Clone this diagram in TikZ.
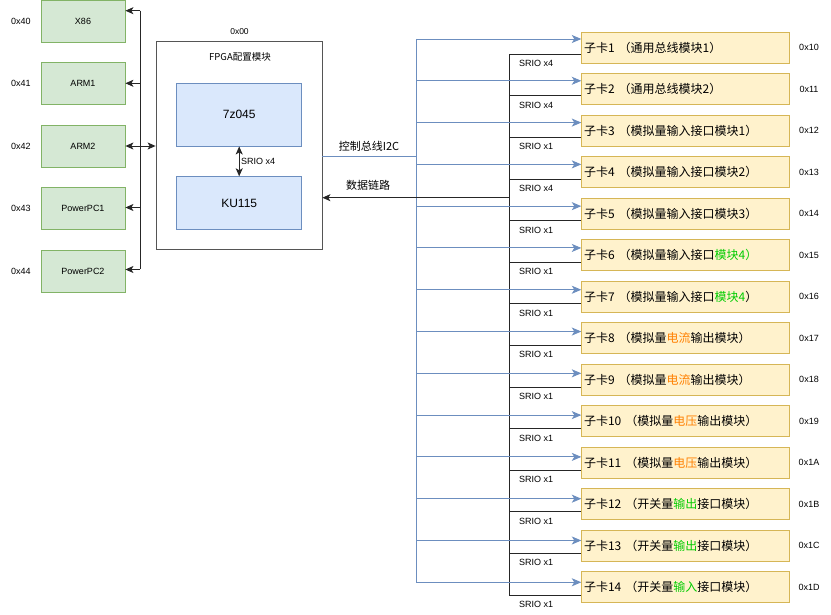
\documentclass[tikz,border=0pt]{standalone}
\usepackage{fontspec}
\setmainfont{Liberation Sans}
\newfontfamily\cjk{Noto Sans CJK SC}
\usetikzlibrary{arrows.meta}
\definecolor{gfill}{HTML}{D5E8D4}
\definecolor{gdraw}{HTML}{82B366}
\definecolor{bfill}{HTML}{DAE8FC}
\definecolor{bdraw}{HTML}{6C8EBF}
\definecolor{yfill}{HTML}{FFF2CC}
\definecolor{ydraw}{HTML}{D6B656}
\definecolor{tgreen}{HTML}{00CC00}
\definecolor{torange}{HTML}{FF8000}
\definecolor{frame}{HTML}{555555}
\begin{document}
\begin{tikzpicture}[x=1pt,y=-1pt,
  gbox/.style={draw=gdraw,fill=gfill,line width=0.8pt,minimum width=84pt,minimum height=42pt,inner sep=0pt,font=\fontsize{9}{10}\selectfont},
  bbox/.style={draw=bdraw,fill=bfill,line width=0.8pt,minimum width=125pt,inner sep=0pt,font=\fontsize{12}{14}\selectfont},
  card/.style={draw=ydraw,fill=yfill,line width=0.8pt,minimum width=207.6pt,minimum height=31pt,text width=203pt,align=left,inner xsep=2pt,inner ysep=0pt,font=\cjk\fontsize{12}{14}\selectfont},
  small/.style={font=\fontsize{9}{10}\selectfont,inner sep=0pt},
  blk/.style={draw=black!85,line width=0.9pt},
  blu/.style={draw=bdraw,line width=0.9pt},
  tip/.style={-{Stealth[length=8pt,width=7pt,inset=2pt]}},
  btip/.style={-{Stealth[length=9.5pt,width=8pt,inset=2.5pt]}},
  dtip/.style={{Stealth[length=8pt,width=7pt,inset=2pt]}-{Stealth[length=8pt,width=7pt,inset=2pt]}}
]
\fill[white] (0,0) rectangle (831,615);
\useasboundingbox (0,0) rectangle (831,615);

% left processors
\node[gbox] (x86) at (83,21.3) {X86};
\node[gbox] (arm1) at (83,83.5) {ARM1};
\node[gbox] (arm2) at (83,146) {ARM2};
\node[gbox] (ppc1) at (83,208) {PowerPC1};
\node[gbox] (ppc2) at (83,271) {PowerPC2};
\node[small] (ad40) at (21,21) {0x40};
\node[small] (ad41) at (21,83.5) {0x41};
\node[small] (ad42) at (21,146) {0x42};
\node[small] (ad43) at (21,208) {0x43};
\node[small] (ad44) at (21,271) {0x44};

% FPGA block
\node[draw=frame,line width=0.8pt,minimum width=166pt,minimum height=207.5pt,inner sep=0pt] (fpga) at (239,145.4) {};
\node[small,font=\fontsize{8.5}{10}\selectfont] (ad00) at (239.5,32) {0x00};
\node[small,font=\cjk\fontsize{9.5}{11}\selectfont] (ftitle) at (240,57) {FPGA配置模块};
\node[bbox,minimum height=62.7pt] (z7) at (239.2,114.7) {7z045};
\node[bbox,minimum height=52.6pt] (ku) at (239.2,203) {KU115};
\draw[blk,dtip] (z7.south) -- (ku.north);
\node[small,anchor=west] (srio0) at (241,161.5) {SRIO x4};

% left bus
\coordinate (b0) at (140,10.7);
\coordinate (b1) at (140,83.3);
\coordinate (b3) at (140,207.5);
\coordinate (b4) at (140,269.5);
\draw[blk] (b0) -- (b4);
\draw[blk,tip] (b0) -- (x86.east |- b0);
\draw[blk,tip] (b1) -- (arm1.east |- b1);
\draw[blk,tip] (b3) -- (ppc1.east |- b3);
\draw[blk,tip] (b4) -- (ppc2.east |- b4);
\draw[blk,dtip] (arm2.east) -- (fpga.west |- arm2.east);

% right buses
\coordinate (bt) at (416,39);
\coordinate (bb) at (416,582.3);
\coordinate (bi) at (416,156);
\draw[blu] (bt) -- (bb);
\draw[blu] (fpga.east |- bi) -- (bi);
\coordinate (kt) at (509,54.3);
\coordinate (kb) at (509,595);
\coordinate (ki) at (509,197.7);
\draw[blk] (kt) -- (kb);
\draw[blk,tip] (ki) -- (fpga.east |- ki);
\node[small,font=\cjk\fontsize{11}{13}\selectfont] (i2c) at (369,146) {控制总线I2C};
\node[small,font=\cjk\fontsize{11}{13}\selectfont] (data) at (368,185) {数据链路};

% cards
\foreach \i/\txt/\ad/\sr in {
  1/{子卡1 （通用总线模块1）}/10/4,
  2/{子卡2 （通用总线模块2）}/11/4,
  3/{子卡3 （模拟量输入接口模块1）}/12/1,
  4/{子卡4 （模拟量输入接口模块2）}/13/4,
  5/{子卡5 （模拟量输入接口模块3）}/14/1,
  6/{子卡6 （模拟量输入接口\textcolor{tgreen}{模块4）}}/15/1,
  7/{子卡7 （模拟量输入接口\textcolor{tgreen}{模块4}）}/16/1,
  8/{子卡8 （模拟量\textcolor{torange}{电流}输出模块）}/17/1,
  9/{子卡9 （模拟量\textcolor{torange}{电流}输出模块）}/18/1,
  10/{子卡10 （模拟量\textcolor{torange}{电压}输出模块）}/19/1,
  11/{子卡11 （模拟量\textcolor{torange}{电压}输出模块）}/1A/1,
  12/{子卡12 （开关量\textcolor{tgreen}{输出}接口模块）}/1B/1,
  13/{子卡13 （开关量\textcolor{tgreen}{输出}接口模块）}/1C/1,
  14/{子卡14 （开关量\textcolor{tgreen}{输入}接口模块）}/1D/1}{
  \pgfmathsetmacro\cy{47.5+(\i-1)*41.52}
  \pgfmathsetmacro\ay{39+(\i-1)*41.79}
  \pgfmathsetmacro\ly{54.3+(\i-1)*41.59}
  \pgfmathsetmacro\sy{\ly+9.3}
  \node[card] (c\i) at (685.5,\cy) {\txt};
  \node[small] (ca\i) at (809,\cy) {0x\ad};
  \coordinate (a\i) at (416,\ay);
  \draw[blu,btip] (a\i) -- (c\i.west |- a\i);
  \coordinate (l\i) at (509,\ly);
  \draw[blk] (l\i) -- (c\i.west |- l\i);
  \node[small,anchor=west] (s\i) at (519,\sy) {SRIO x\sr};
}
\end{tikzpicture}
\end{document}
